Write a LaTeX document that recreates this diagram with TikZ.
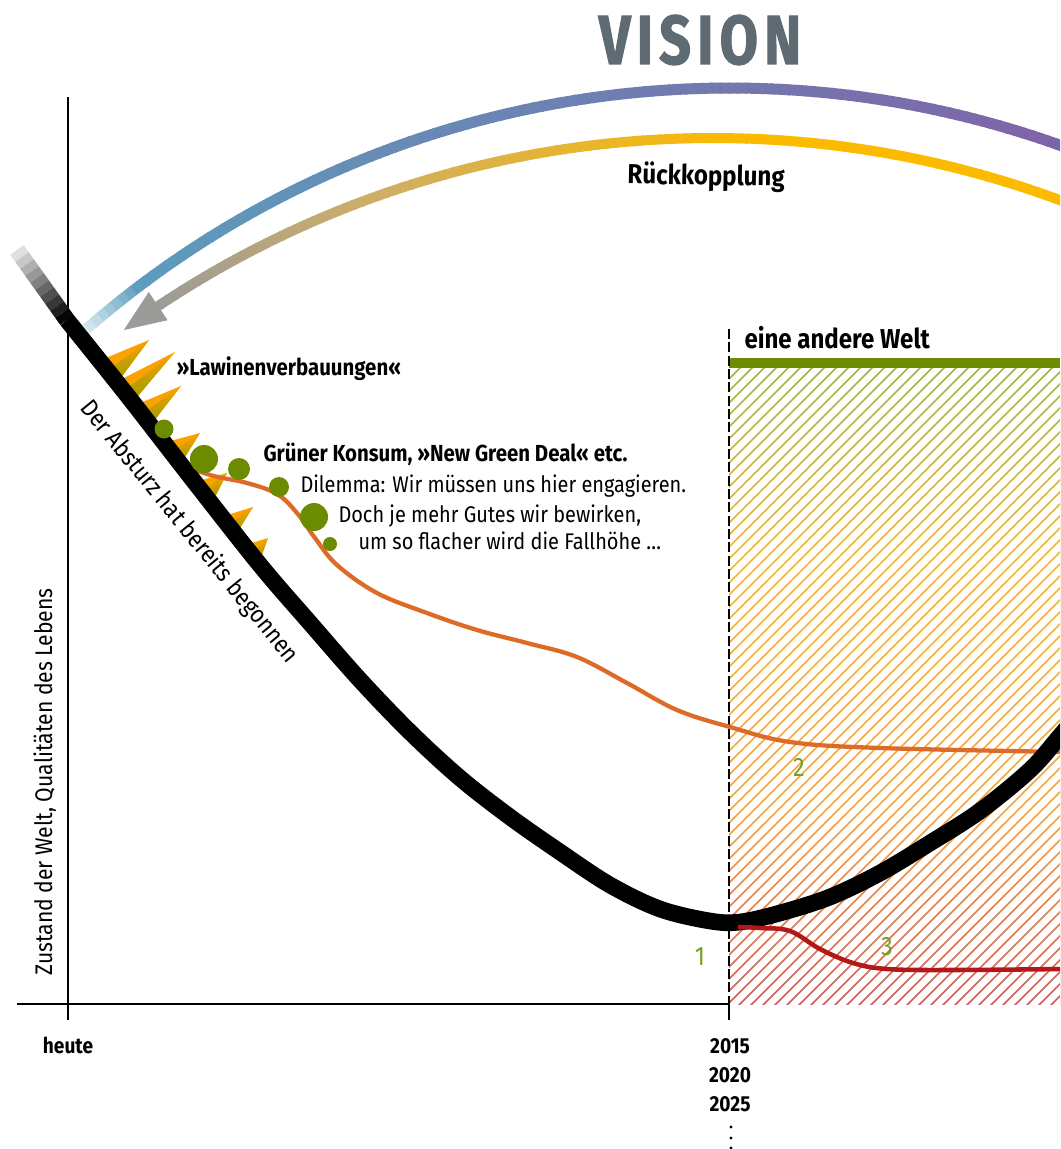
\documentclass[tikz,border=0pt]{standalone}
\usepackage{fontspec}
\setmainfont{Fira Sans}[FakeStretch=0.88]
\newfontfamily\titlefont{Fira Sans}[FakeStretch=0.8,LetterSpace=9,BoldFeatures={FakeBold=1.5}]
\usetikzlibrary{positioning,calc}

\definecolor{arcblue}{RGB}{90,160,190}
\definecolor{arcpurple}{RGB}{128,98,166}
\definecolor{ryellow}{RGB}{252,186,0}
\definecolor{rtan}{RGB}{205,174,104}
\definecolor{rgray}{RGB}{155,155,152}
\definecolor{visiongray}{RGB}{95,107,115}
\definecolor{dotgreen}{RGB}{107,140,0}
\definecolor{numgreen}{RGB}{120,160,30}
\definecolor{weltgreen}{RGB}{110,140,0}
\definecolor{lineorange}{RGB}{222,106,40}
\definecolor{linered}{RGB}{178,24,26}
\definecolor{hgreen}{RGB}{160,180,80}
\definecolor{hyellow}{RGB}{240,185,70}
\definecolor{horange}{RGB}{238,165,80}
\definecolor{hred}{RGB}{205,95,95}
\definecolor{coneorange}{RGB}{250,162,0}
\definecolor{coneolive}{RGB}{150,155,0}

\tikzset{every picture/.style={line width=0.75pt}}
\tikzset{
  txt/.style={inner sep=0.75pt, font=\fontsize{17}{19}\selectfont},
  txtb/.style={inner sep=0.75pt, font=\fontsize{17.4}{20}\selectfont\bfseries},
  yearlbl/.style={inner sep=0.75pt, anchor=base, font=\fontsize{16.3}{19}\selectfont\bfseries},
  numlbl/.style={inner sep=0.75pt, anchor=base, text=numgreen, font=\fontsize{20}{22}\selectfont},
  cone/.style={fill=coneorange},
  coneshadow/.style={top color=coneorange, bottom color=coneolive},
  greendot/.style={fill=dotgreen},
  hatchgap/.style={white, line width=4.9pt},
}

\begin{document}
\begin{tikzpicture}[x=0.75pt,y=0.75pt,yscale=-1,xscale=1]
\useasboundingbox (0,0) rectangle (1060,1149);
\clip (0,0) rectangle (1060,1149);

% axes
\coordinate (ytop) at (68,97);
\coordinate (ybot) at (68,1020);
\coordinate (xleft) at (17,1004);
\coordinate (xright) at (1060,1004);
\coordinate (mtop) at (729,329);
\coordinate (mbot) at (729,1004);
\coordinate (mtick) at (729,1020);
\draw [line width=1.1pt] (ytop) -- (ybot) ;
\draw [line width=1.1pt] (xleft) -- (xright) ;

%Shape: hatched area "eine andere Welt"
\shade [top color=hgreen, bottom color=hyellow] (729,367) rectangle (1060,561) ;
\shade [top color=hyellow, bottom color=horange] (729,560) rectangle (1060,821) ;
\shade [top color=horange, bottom color=hred] (729,820) rectangle (1060,1004) ;
\begin{scope}
\clip (729,367) rectangle (1060,1004);
\foreach \i in {80,92,...,1070}
  \draw [hatchgap] (\i,1010) -- ++(660,-660) ;
\end{scope}
\draw [weltgreen, line width=7.5pt] (729,363) -- (1060,363) ;
\draw [dash pattern={on 7.5pt off 2.5pt}, line width=1pt] (mtop) -- (mbot) ;
\draw [line width=1.1pt] (mbot) -- (mtick) ;

%Arc: vision
\begin{scope}[shift={(730,1068)}]
\foreach \a in {68,68.5,...,131} {
  \pgfmathsetmacro\p{(\a-68)/63*100}
  \pgfmathsetmacro\q{min(100,(131.5-\a)/5*100+8)}
  \draw [line width=8.25pt, color=arcblue!\p!arcpurple!\q!white] (-\a:980) arc [start angle=-\a, end angle=-\a-0.6, radius=980] ;
}
\end{scope}

%Arc: Rueckkopplung with arrow
\begin{scope}[shift={(713,1138)}]
\foreach \a in {66,66.5,...,123.5} {
  \pgfmathsetmacro\p{max(0,min(100,(\a-88)/22*100))}
  \pgfmathsetmacro\q{max(0,min(100,(\a-110)/13.7*100))}
  \draw [line width=7.5pt, color=rgray!\q!rtan!\p!ryellow] (-\a:1000) arc [start angle=-\a, end angle=-\a-0.6, radius=1000] ;
}
\fill [rgray] (-126.1:1000) -- (-123.7:1017) -- (-123.7:983) -- cycle ;
\end{scope}

%Shape: cones
\foreach \bx/\by/\cx/\cy/\tx/\ty in {101/360/117/383/149/340, 116/382/132/403/175/352, 133/406/150/426/181/386, 163/443/180/465/200/433, 195/482/212/503/227/473, 221/517/235/536/253/507, 245/545/259/563/268/538} {
  \fill [cone] (\bx,\by) -- (\cx,\cy) -- (\tx,\ty) -- cycle ;
  \shade [coneshadow] ($(\bx,\by)!0.45!(\cx,\cy)$) -- (\cx,\cy) -- (\tx,\ty) -- cycle ;
}

%Curve: orange
\draw [lineorange, line width=3.2pt] plot [smooth, tension=0.6] coordinates {(172,461) (210,475) (247,483) (277,494) (297,513) (315,538) (337,565) (377,593) (427,613) (477,630) (527,643) (577,657) (627,683) (677,710) (730,727) (790,742) (880,748) (1065,752)} ;

%Curve: black with fade
\foreach \i in {0,...,9} {
  \pgfmathsetmacro\g{12+\i*9.5}
  \draw [line width=12.5pt, color=black!\g] (17+5*\i,250+7*\i) -- (22+5*\i,257+7*\i) ;
}
\draw [line width=12.5pt] plot [smooth, tension=0.55] coordinates {(67,320) (127,395) (193,480) (260,565) (310,623) (360,680) (410,732) (460,778) (510,817) (560,852) (610,885) (660,909) (710,921) (740,922) (780,913) (830,897) (880,873) (930,843) (980,811) (1030,770) (1060,736) (1080,712)} ;

%Curve: red
\draw [linered, line width=3.4pt] plot [smooth, tension=0.6] coordinates {(738,927) (760,928) (790,931) (820,949) (853,963) (887,969) (950,970) (1065,969)} ;

%Shape: green dots
\foreach \x/\y/\r in {164/429/9.5, 204/459/14, 239/469/11, 279/487/10, 314/517/14, 330/544/7}
  \fill [greendot] (\x,\y) circle [radius=\r] ;

% Text Node
\node [font=\fontsize{52}{56}\titlefont\bfseries, text=visiongray, anchor=base, inner sep=0.75pt] (vision) at (700,64) {VISION};
% Text Node
\node [anchor=base, rotate=-1, inner sep=0.75pt, font=\fontsize{20.5}{22}\selectfont\bfseries] (rueck) at (706,185) {Rückkopplung};
% Text Node
\node [txtb, anchor=base west] (lawinen) at (175,375) {»Lawinenverbauungen«};
% Text Node
\node [txtb, anchor=base west] (gruen) at (262,461) {Grüner Konsum, »New Green Deal« etc.};
% Text Node
\node [txt, anchor=base west] (dilemma) at (299,492) {Dilemma: Wir müssen uns hier engagieren.};
% Text Node
\node [txt, anchor=base west] (doch) at (337,522) {Doch je mehr Gutes wir bewirken,};
% Text Node
\node [txt, anchor=base west] (fallhoehe) at (357,549) {um so flacher wird die Fallhöhe …};
% Text Node
\node [anchor=base west, inner sep=0.75pt, font=\fontsize{20.5}{22}\selectfont\bfseries] (andere) at (743,348) {eine andere Welt};
% Text Node
\node [rotate=-50.9, inner sep=0.75pt, font=\fontsize{18.5}{20}\selectfont] (absturz) at (189,532) {Der Absturz hat bereits begonnen};
% Text Node
\node [rotate=90, anchor=base, inner sep=0.75pt, font=\fontsize{18}{20}\selectfont] (zustand) at (52,782) {Zustand der Welt, Qualitäten des Lebens};
% Text Node
\node [yearlbl] (heute) at (68,1053) {heute};
\node [yearlbl] (y2015) at (730,1053) {2015};
\node [yearlbl] (y2020) at (730,1082) {2020};
\node [yearlbl] (y2025) at (730,1111) {2025};
\foreach \y in {1127,1138,1148}
  \fill (731,\y) circle [radius=1.6] ;
% Text Node
\node [numlbl] (n1) at (700,965) {1};
\node [numlbl] (n2) at (799,776) {2};
\node [numlbl] (n3) at (887,955) {3};

\end{tikzpicture}
\end{document}
